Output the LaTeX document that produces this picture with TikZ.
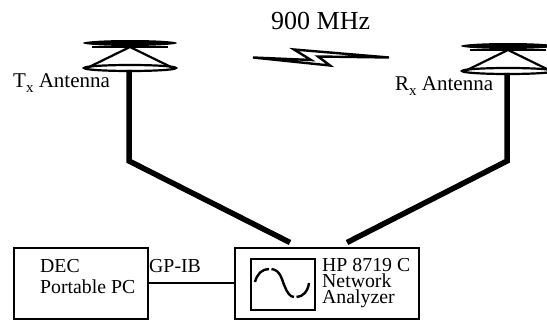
\documentclass[tikz,border=0pt]{standalone}
\usepackage{fontspec}
\setmainfont{Liberation Serif}
\usepackage{tikz}
\usetikzlibrary{calc,positioning}

\newcommand{\subx}{\raisebox{-0.22em}{\fontsize{15}{15}\selectfont x}}
\tikzset{
    boxnode/.style={draw,line width=2.4pt,inner sep=0pt,anchor=north west},
    labelnode/.style={inner sep=0pt,anchor=base west,font=\fontsize{19.8}{20}\selectfont},
    antennalabel/.style={labelnode,font=\fontsize{21}{22}\selectfont},
    cable/.style={line width=5.5pt},
    thinline/.style={line width=2.2pt}
}

\begin{document}
\begin{tikzpicture}[x=1pt,y=-1pt]
    \clip (0,0) rectangle (547,321);
    \node [boxnode,minimum width=134pt,minimum height=71pt] (pc) at (13,246.5) {};
    \node [boxnode,minimum width=184pt,minimum height=71pt] (analyzer) at (234,246.5) {};
    \node [boxnode,minimum width=64pt,minimum height=51pt] (screen) at (250,257.5) {};
    \draw [thinline] (pc) -- (pc -| analyzer.west);
    \node [labelnode] (dec) at (40,272) {DEC};
    \node [labelnode] (portable) at (40,293.5) {Portable PC};
    \node [labelnode] (gpib) at (149,272) {GP-IB};
    \node [labelnode] (hp) at (322,271) {HP 8719 C};
    \node [labelnode] (network) at (322,287) {Network};
    \node [labelnode] (analyzertext) at (322,303) {Analyzer};
    % sine on the screen
    \draw [line width=2.4pt] (255,282) .. controls (257,274) and (262,269) .. (269,269);
    \draw [line width=2.4pt] (271.5,269) .. controls (281,270) and (282,281) .. (285,287) .. controls (287,292) and (290,297) .. (294,297);
    \draw [line width=2.4pt] (296.5,297) .. controls (303,297) and (308,291) .. (309,283);
    % antennas
    \foreach \x/\name/\shift in {130/tx/0,508/rx/3} {
        \coordinate (\name-apex) at (\x,47+\shift);
        \coordinate (\name-foot) at (\x-1,70+\shift);
        \coordinate (\name-bend) at (\x-1,161);
        \fill ($(\name-apex)+(0,-4)$) ellipse [x radius=47pt,y radius=3pt];
        \draw [line width=2.2pt] ($(\name-apex)+(-38,0)$) -- ($(\name-apex)+(38,0)$);
        \draw [line width=2.2pt] ($(\name-apex)+(-43,21)$) -- (\name-apex) -- ($(\name-apex)+(43,21)$);
        \draw [line width=2.2pt] ($(\name-apex)+(0,21)$) ellipse [x radius=46pt,y radius=3pt];
    }
    \coordinate (tx-end) at (290,242.5);
    \coordinate (rx-end) at (347,242.5);
    \draw [cable] (tx-foot) -- (tx-bend) -- (tx-end);
    \draw [cable] (rx-foot) -- (rx-bend) -- (rx-end);
    \node [antennalabel] (txlabel) at (13,88) {T\subx{} Antenna};
    \node [antennalabel] (rxlabel) at (395,91) {R\subx{} Antenna};
    \node [labelnode,font=\fontsize{26}{28}\selectfont] (freq) at (271,30) {900 MHz};
    % lightning
    \draw [line width=2.4pt,line join=miter] (253,57.5) -- (311,60) -- (294,49.5) -- (389,57.5) -- (318,56.5) -- (330,65.5) -- cycle;
\end{tikzpicture}
\end{document}
